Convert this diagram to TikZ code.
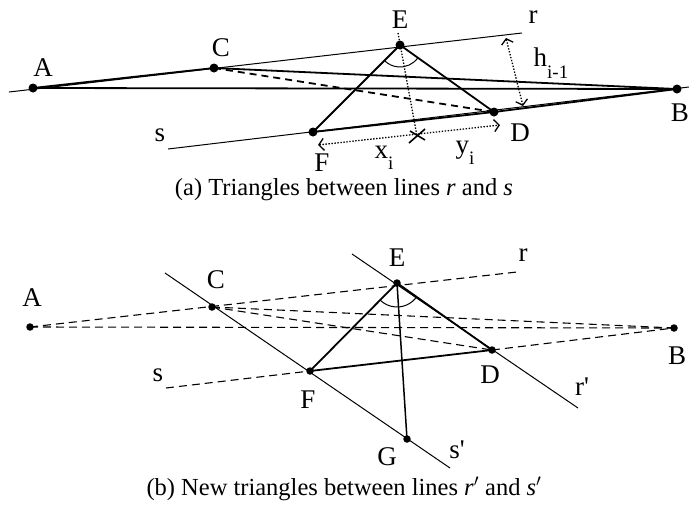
\documentclass[tikz,border=0pt]{standalone}
\usepackage{fontspec}
\setmainfont{Liberation Serif}
\usetikzlibrary{arrows.meta}
\newcommand\lsub[1]{\raisebox{-0.42em}{\fontsize{19}{19}\selectfont #1}}
\begin{document}
\begin{tikzpicture}[x=1pt,y=-1pt,
  thickline/.style={line width=1.8pt},
  thinline/.style={line width=1pt},
  dashthick/.style={line width=1.8pt, dash pattern=on 7pt off 5pt},
  dashthin/.style={line width=1.1pt, dash pattern=on 8pt off 5pt},
  ptdot/.style={circle,fill,inner sep=0pt,minimum size=9pt},
  ptdotb/.style={circle,fill,inner sep=0pt,minimum size=7.5pt},
  lbl/.style={font=\fontsize{27}{29}\selectfont, inner sep=0pt},
  captext/.style={font=\fontsize{24.5}{26}\selectfont, inner sep=0pt},
  dotline/.style={line width=1.3pt, dash pattern=on 1.4pt off 1.6pt},
  barb/.tip={Straight Barb[length=5pt,width=12pt,line width=1.3pt]},
  dimarrow/.style={dotline, barb-barb}
]
\useasboundingbox (0,0) rectangle (689,507);

% ---------- panel (a) ----------
\coordinate (A) at (33,88);
\coordinate (C) at (214,68);
\coordinate (E) at (400,45);
\coordinate (B) at (677,89);
\coordinate (D) at (494,112);
\coordinate (F) at (313,132);
\coordinate (r1) at (9,92);
\coordinate (r2) at (522,33);
\coordinate (s1) at (168,149);
\coordinate (s2) at (689,87);
\coordinate (X) at (417,136);
\coordinate (Et) at (398,33);
\coordinate (xa) at (318,145);
\coordinate (xb) at (500,125);
\coordinate (ha) at (506,38);
\coordinate (hb) at (523,106);

\draw[thinline] (r1) -- (r2);
\draw[thinline] (s1) -- (s2);
\draw[thickline] (A) -- (C) -- (B) -- cycle;
\draw[thickline] (E) -- (F) -- (D) -- cycle;
\draw[thickline] (D) -- (B);
\draw[dashthick] (C) -- (D);
\draw[dotline] (Et) -- (X);
\draw[dimarrow] (xa) -- (xb);
\draw[dimarrow] (ha) -- (hb);
\draw[line width=1.6pt] ([shift={(-8,7)}]X) -- ([shift={(8,-7)}]X);
\draw[line width=1.6pt] ([shift={(-7,-5)}]X) -- ([shift={(8,4)}]X);
\draw[thinline] ([shift={(35.5:22)}]E) arc[start angle=35.5,end angle=135,radius=22];

\foreach \p in {A,C,E,B,D,F} \node[ptdot] (d\p) at (\p) {};

\node[lbl] (lA) at (43,68) {A};
\node[lbl] (lC) at (221,48) {C};
\node[lbl] (lE) at (400,20) {E};
\node[lbl] (lr) at (533,17) {r};
\node[lbl] (lB) at (680,113) {B};
\node[lbl] (lD) at (520,133) {D};
\node[lbl] (lF) at (322,163) {F};
\node[lbl] (ls) at (160,135) {s};
\node[lbl] (lx) at (384,158) {x\lsub{i}};
\node[lbl] (ly) at (465,153) {y\lsub{i}};
\node[lbl] (lh) at (551,63) {h\lsub{i-1}};
\node[captext] (capa) at (344,190) {(a) Triangles between lines \textit{r} and \textit{s}};

% ---------- panel (b) ----------
\coordinate (A2) at (30,327);
\coordinate (C2) at (212,307);
\coordinate (E2) at (397,283);
\coordinate (B2) at (674,328);
\coordinate (D2) at (492,350);
\coordinate (F2) at (310,371);
\coordinate (G2) at (407,439);
\coordinate (r2e) at (517,272);
\coordinate (s2s) at (166,388);
\coordinate (sp1) at (165,273);
\coordinate (sp2) at (450,468);
\coordinate (rp1) at (352,254);
\coordinate (rp2) at (578,408);

\draw[dashthin] (A2) -- (r2e);
\draw[dashthin] (A2) -- (B2);
\draw[dashthin] (C2) -- (B2);
\draw[dashthin] (C2) -- (D2);
\draw[dashthin] (s2s) -- (F2);
\draw[dashthin] (D2) -- (B2);
\draw[thinline] (sp1) -- (sp2);
\draw[thinline] (rp1) -- (rp2);
\draw[thickline] (E2) -- (F2) -- (D2) -- cycle;
\draw[line width=1.5pt] (E2) -- (G2);
\draw[thinline] ([shift={(35.2:24)}]E2) arc[start angle=35.2,end angle=134.7,radius=24];

\foreach \p in {A2,C2,E2,B2,D2,F2,G2} \node[ptdotb] (d\p) at (\p) {};

\node[lbl] (lA2) at (32,298) {A};
\node[lbl] (lC2) at (216,280) {C};
\node[lbl] (lE2) at (397,258) {E};
\node[lbl] (lr2) at (523,255) {r};
\node[lbl] (lB2) at (677,356) {B};
\node[lbl] (lD2) at (490,375) {D};
\node[lbl] (lrp) at (582,387) {r\textquotesingle};
\node[lbl] (ls2) at (158,375) {s};
\node[lbl] (lF2) at (308,400) {F};
\node[lbl] (lG2) at (387,457) {G};
\node[lbl] (lsp) at (457,450) {s\textquotesingle};
\node[captext] (capb) at (344,489) {(b) New triangles between lines \textit{r}$'$ and \textit{s}$'$};
\end{tikzpicture}
\end{document}
